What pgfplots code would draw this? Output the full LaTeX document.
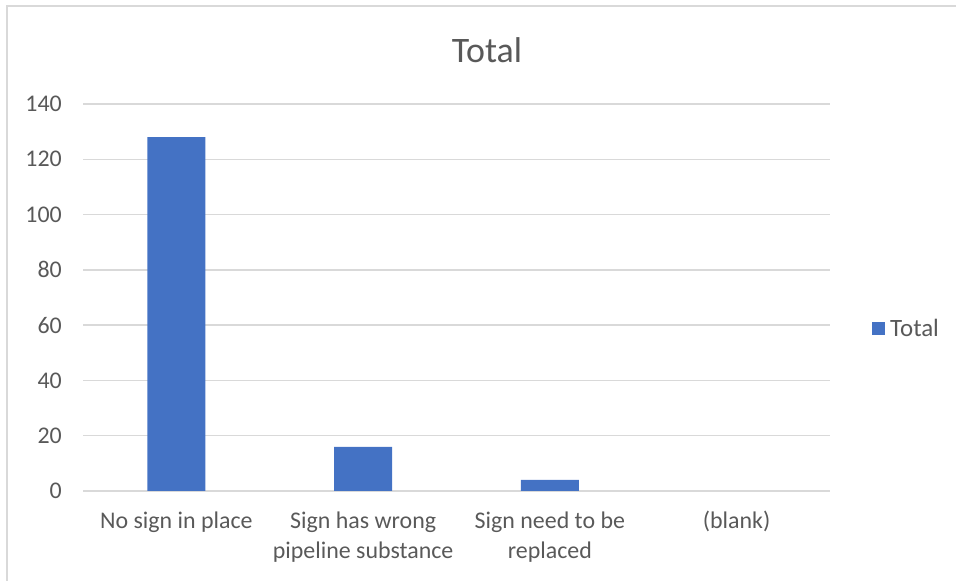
\documentclass[border=0pt]{standalone}
\usepackage{pgfplots}
\pgfplotsset{compat=1.18}
\usepackage{fontspec}
\setmainfont{Carlito}
\definecolor{barblue}{HTML}{4472C4}
\definecolor{gridgray}{HTML}{D9D9D9}
\definecolor{txtgray}{HTML}{595959}
\begin{document}
\begin{tikzpicture}
\useasboundingbox (0bp,0bp) rectangle (956bp,581bp);
\draw[gridgray, line width=2bp] (7bp,0bp) -- (7bp,575bp) -- (956bp,575bp);
\node[txtgray, font=\fontsize{36}{42}\selectfont] at (487bp,531bp) {Total};
\begin{axis}[
  at={(83bp,90bp)}, anchor=south west,
  scale only axis, width=747bp, height=387bp,
  xmin=-0.5, xmax=3.5, ymin=0, ymax=140,
  ytick={0,20,...,140},
  xtick=data,
  xticklabels={No sign in place, Sign has wrong\\pipeline substance, Sign need to be\\replaced, (blank)},
  xticklabel style={align=center, font=\fontsize{24}{31}\selectfont, text=txtgray, inner sep=0pt, yshift=-16bp},
  yticklabel style={font=\fontsize{24}{29}\selectfont, text=txtgray, inner sep=0pt, xshift=-21bp},
  /pgf/number format/assume math mode=true,
  axis line style={draw=none},
  tick style={draw=none},
  ymajorgrids, grid style={gridgray, line width=1.5bp},
  ybar, bar width=58bp,
  legend style={at={(1,0.5)}, anchor=west, xshift=42bp, yshift=-31bp, draw=none, font=\fontsize{25}{29}\selectfont, text=txtgray, inner sep=0pt,
    nodes={inner xsep=5bp}},
  legend image code/.code={\fill[barblue] (0bp,-6.5bp) rectangle (13bp,6.5bp);},
]
\addplot[fill=barblue, draw=none] coordinates {(0,128) (1,16) (2,4) (3,0)};
\addlegendentry{Total}
\end{axis}
\end{tikzpicture}
\end{document}
